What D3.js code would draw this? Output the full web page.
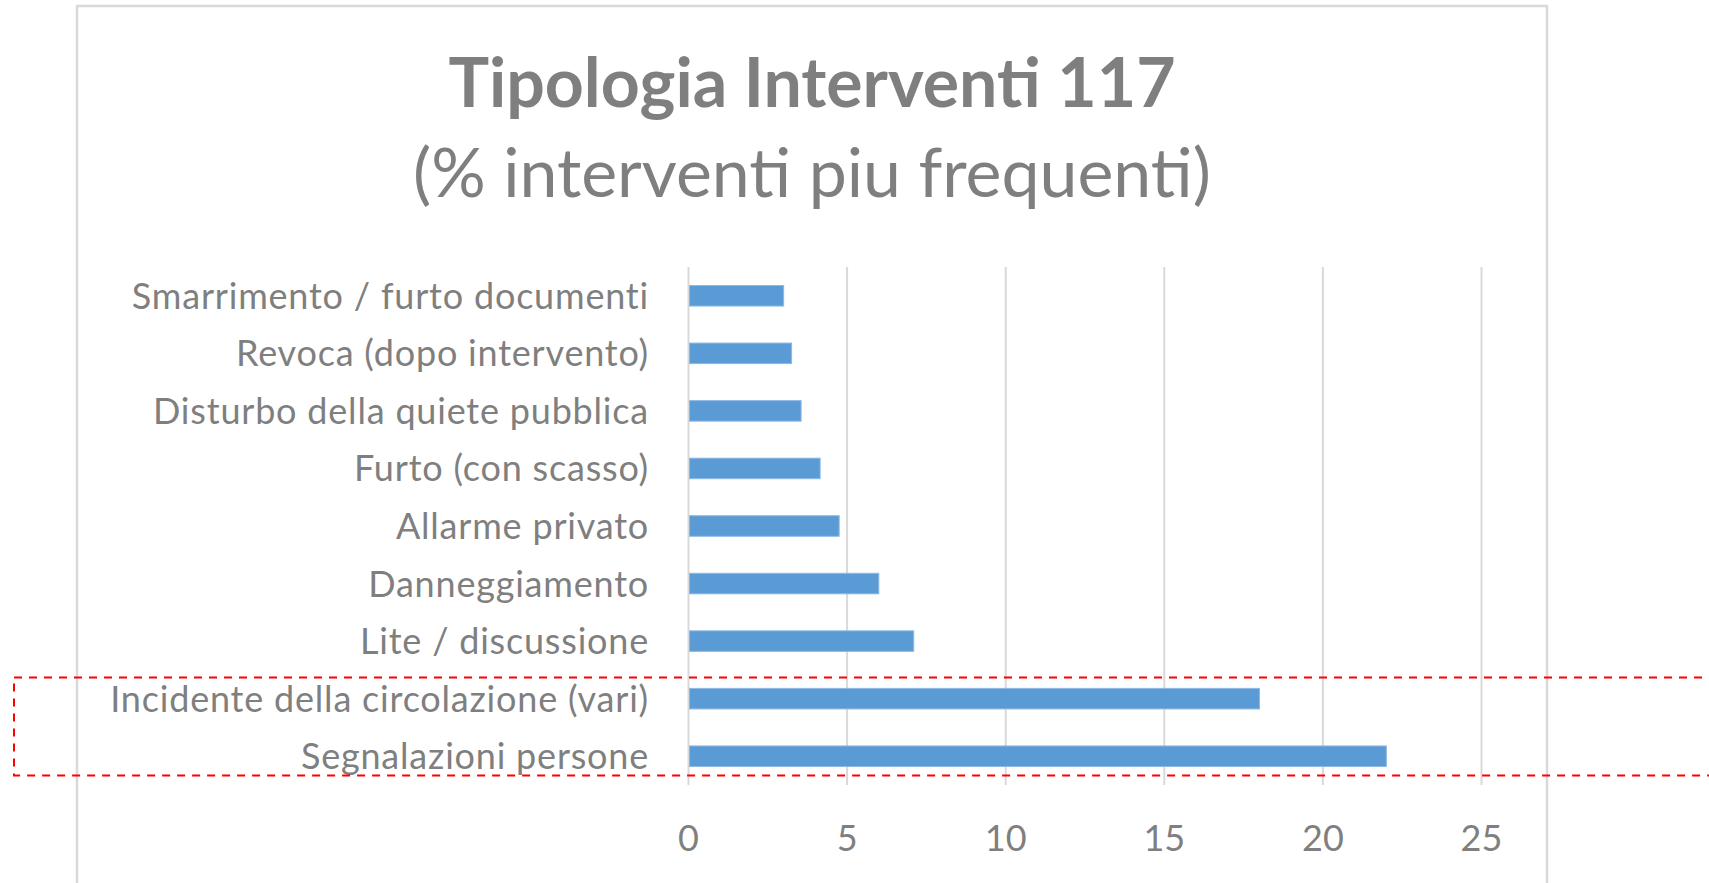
<!DOCTYPE html>
<html lang="it">
<head>
    <meta charset="UTF-8">
    <title>Tipologia Interventi 117</title>
    <script src="https://d3js.org/d3.v7.min.js"></script>
    <style>
        body { margin: 0; background: #fff; }
        text { font-family: Lato, "Open Sans", sans-serif; fill: #7f7f7f; }
    </style>
</head>
<body>
    <svg width="1709" height="883"></svg>
    <script>
        // dati (dall'alto verso il basso)
        const categories = [
            'Smarrimento / furto documenti',
            'Revoca (dopo intervento)',
            'Disturbo della quiete pubblica',
            'Furto (con scasso)',
            'Allarme privato',
            'Danneggiamento',
            'Lite / discussione',
            'Incidente della circolazione (vari)',
            'Segnalazioni persone'
        ];
        const values = [3.0, 3.25, 3.55, 4.15, 4.75, 6.0, 7.1, 18.0, 22.0];
        const xTicks = [0, 5, 10, 15, 20, 25];
        const highlighted = ['Incidente della circolazione (vari)', 'Segnalazioni persone'];

        const width = 1709, height = 883;
        const svg = d3.select('svg');

        // cornice del grafico
        svg.append('rect')
            .attr('x', 77).attr('y', 6)
            .attr('width', 1470).attr('height', 920)
            .attr('fill', 'none')
            .attr('stroke', '#d9d9d9')
            .attr('stroke-width', 2.5);

        // titolo
        svg.append('text')
            .attr('x', 812).attr('y', 107)
            .attr('text-anchor', 'middle')
            .attr('font-size', 68)
            .attr('font-weight', 700)
            .text('Tipologia Interventi 117');

        svg.append('text')
            .attr('x', 812).attr('y', 197)
            .attr('text-anchor', 'middle')
            .attr('font-size', 68)
            .text('(% interventi piu frequenti)');

        const x = d3.scaleLinear().domain([0, 25]).range([688.5, 1481.5]);
        const y = d3.scaleBand().domain(categories).range([267, 785])
            .paddingInner(0.643).paddingOuter(0.3215);

        // griglia verticale
        svg.append('g')
            .selectAll('line')
            .data(xTicks)
            .join('line')
            .attr('x1', d => x(d)).attr('x2', d => x(d))
            .attr('y1', 267).attr('y2', 785)
            .attr('stroke', '#d9d9d9')
            .attr('stroke-width', 2);

        // barre
        svg.append('g')
            .selectAll('rect')
            .data(categories)
            .join('rect')
            .attr('x', x(0) + 1)
            .attr('y', d => y(d))
            .attr('width', (d, i) => x(values[i]) - x(0) - 1)
            .attr('height', y.bandwidth())
            .attr('fill', '#5b9bd5')
            .attr('stroke', '#8db9e3')
            .attr('stroke-width', 1);

        // etichette categorie
        svg.append('g')
            .selectAll('text')
            .data(categories)
            .join('text')
            .attr('x', 649)
            .attr('y', d => y(d) + y.bandwidth() / 2)
            .attr('dy', '0.36em')
            .attr('text-anchor', 'end')
            .attr('font-size', 36)
            .attr('letter-spacing', 0.8)
            .text(d => d);

        // etichette asse x
        svg.append('g')
            .selectAll('text')
            .data(xTicks)
            .join('text')
            .attr('x', d => x(d))
            .attr('y', 851)
            .attr('text-anchor', 'middle')
            .attr('font-size', 36)
            .text(d => d);

        // riquadro tratteggiato rosso
        const boxTop = y(highlighted[0]) - 11;
        const boxBottom = y(highlighted[1]) + y.bandwidth() + 9;
        svg.append('rect')
            .attr('x', 14).attr('y', boxTop)
            .attr('width', width).attr('height', boxBottom - boxTop)
            .attr('fill', 'none')
            .attr('stroke', '#ff0000')
            .attr('stroke-width', 2)
            .attr('stroke-dasharray', '8 7');
    </script>
</body>
</html>
